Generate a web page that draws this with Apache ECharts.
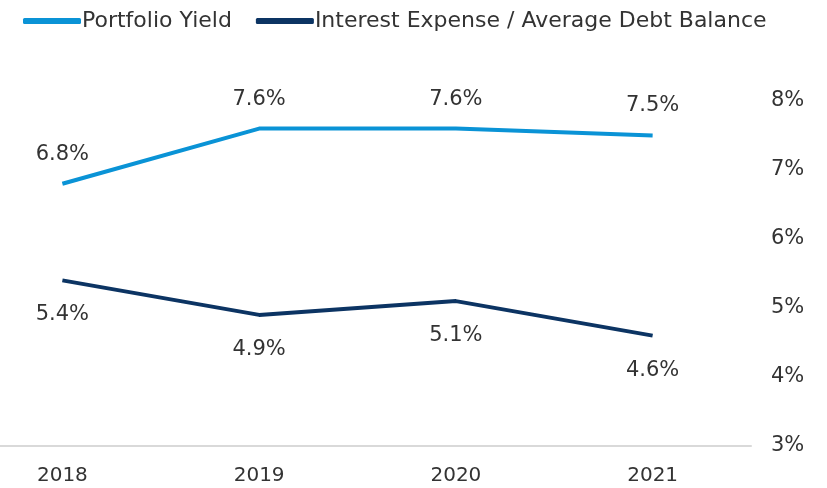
<!DOCTYPE html>
<html>
<head>
<meta charset="utf-8">
<script src="https://cdn.jsdelivr.net/npm/echarts@6/dist/echarts.min.js"></script>
<style>
  html, body { margin: 0; padding: 0; background: #fff; }
  #chart { width: 827px; height: 488px; }
</style>
</head>
<body>
<div id="chart"></div>
<script>
// Values (percent).
const years = ["2018", "2019", "2020", "2021"]
const portfolioYield = [6.8, 7.6, 7.6, 7.5]
const interestExpense = [5.4, 4.9, 5.1, 4.6]

const LIGHT_BLUE = "#0a93d6"
const NAVY = "#0c3463"
const TEXT = "#333333"
const FONT = "DejaVu Sans"

const chart = echarts.init(document.getElementById("chart"))

const labelStyle = (position, distance) => ({
  show: true,
  position,
  distance,
  formatter: (p) => p.value.toFixed(1) + "%",
  color: TEXT,
  fontSize: 21,
  fontFamily: FONT,
})

chart.setOption({
  animation: false,
  legend: {
    top: 5,
    left: 18,
    itemWidth: 58,
    itemHeight: 6,
    itemGap: 24,
    icon: "roundRect",
    textStyle: {color: TEXT, fontSize: 22, fontFamily: FONT, padding: [0, 0, 0, -4]},
    data: ["Portfolio Yield", "Interest Expense / Average Debt Balance"],
  },
  grid: {left: -36, right: 76, top: 101, bottom: 42, outerBoundsMode: "none"},
  xAxis: {
    type: "category",
    data: years,
    boundaryGap: true,
    axisLine: {lineStyle: {color: "#d9d9d9", width: 2}},
    axisTick: {show: false},
    axisLabel: {color: TEXT, fontSize: 20, fontFamily: FONT, margin: 20},
  },
  yAxis: {
    type: "value",
    position: "right",
    min: 3,
    max: 8,
    interval: 1,
    axisLine: {show: false},
    axisTick: {show: false},
    splitLine: {show: false},
    axisLabel: {
      color: TEXT,
      fontSize: 21,
      fontFamily: FONT,
      margin: 20,
      formatter: (v) => v + "%",
    },
  },
  series: [
    {
      name: "Portfolio Yield",
      type: "line",
      data: portfolioYield,
      symbol: "circle",
      symbolSize: 0,
      showSymbol: true,
      color: LIGHT_BLUE,
      itemStyle: {color: LIGHT_BLUE},
      lineStyle: {width: 4, color: LIGHT_BLUE},
      label: labelStyle("top", 19),
    },
    {
      name: "Interest Expense / Average Debt Balance",
      type: "line",
      data: interestExpense,
      symbol: "circle",
      symbolSize: 0,
      showSymbol: true,
      color: NAVY,
      itemStyle: {color: NAVY},
      lineStyle: {width: 4, color: NAVY},
      label: labelStyle("bottom", 24),
    },
  ],
})
</script>
</body>
</html>
